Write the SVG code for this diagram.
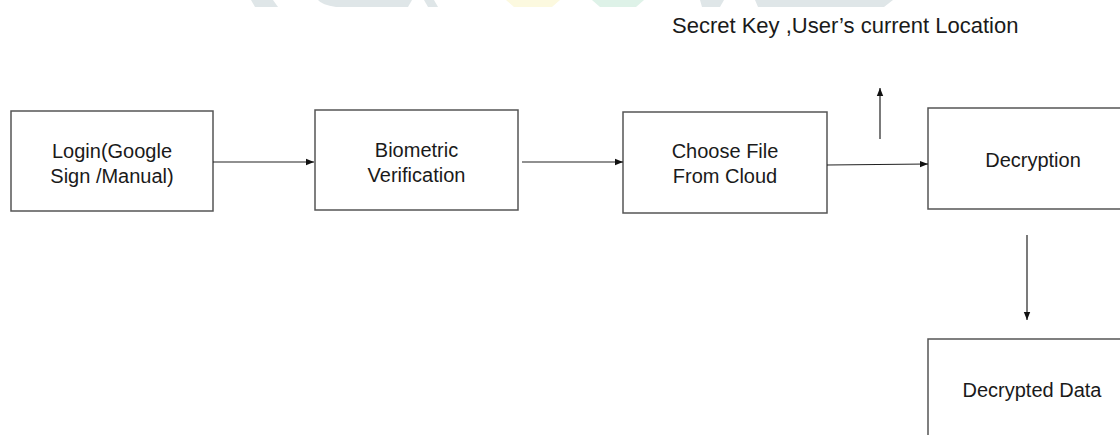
<svg xmlns="http://www.w3.org/2000/svg" width="1120" height="435" viewBox="0 0 1120 435">
  <defs>
    <marker id="arrow" viewBox="0 0 8 8" refX="8" refY="4" markerWidth="8" markerHeight="8" markerUnits="userSpaceOnUse" orient="auto">
      <path d="M0,0.8 L8,4 L0,7.2 Z" fill="#111"/>
    </marker>
    <style>
      .box { fill: #fff; stroke: #555; stroke-width: 1.5; }
      .label { font-family: "Liberation Sans", Arial, Helvetica, sans-serif; font-size: 20px; fill: #1a1a1a; text-anchor: middle; }
      .note { font-family: "Liberation Sans", Arial, Helvetica, sans-serif; font-size: 22px; fill: #1a1a1a; }
      .wire { fill: none; stroke: #222; stroke-width: 1.2; marker-end: url(#arrow); }
      .wm-gray { fill: #dfe6e8; }
      .wm-yellow { fill: #fcf9df; }
      .wm-green { fill: #def2e8; }
    </style>
  </defs>

  <rect width="1120" height="435" fill="#fff"/>

  <!-- faint background watermark along the top edge -->
  <g id="watermark">
    <polygon class="wm-gray" points="251,0 273,0 278,7 255,7"/>
    <path class="wm-gray" d="M318,0 L412,0 L408,7 L336,7 Q322,5 318,0 Z"/>
    <polygon class="wm-gray" points="424,0 434,0 438,7 428,7"/>
    <polygon class="wm-yellow" points="506,0 560,0 552,7 514,7"/>
    <polygon class="wm-green" points="592,0 644,0 636,7 600,7"/>
    <polygon class="wm-gray" points="700,0 724,0 720,7 702,7"/>
    <path class="wm-gray" d="M755,0 L893,0 L884,7 L758,7 Z"/>
  </g>

  <text class="note" x="672" y="33">Secret Key ,User’s current Location</text>

  <g id="login">
    <rect class="box" x="11" y="111" width="202" height="100"/>
    <text class="label" x="112" y="158">Login(Google</text>
    <text class="label" x="112" y="183">Sign /Manual)</text>
  </g>

  <g id="biometric">
    <rect class="box" x="315" y="110" width="203" height="100"/>
    <text class="label" x="416.5" y="157">Biometric</text>
    <text class="label" x="416.5" y="182">Verification</text>
  </g>

  <g id="choose-file">
    <rect class="box" x="623" y="112" width="204" height="101"/>
    <text class="label" x="725" y="158">Choose File</text>
    <text class="label" x="725" y="183">From Cloud</text>
  </g>

  <g id="decryption">
    <rect class="box" x="928" y="108" width="210" height="101"/>
    <text class="label" x="1033" y="167">Decryption</text>
  </g>

  <g id="decrypted-data">
    <rect class="box" x="928" y="339" width="210" height="110"/>
    <text class="label" x="1032" y="397">Decrypted Data</text>
  </g>

  <g id="connectors">
    <line class="wire" x1="213" y1="162" x2="314" y2="162"/>
    <line class="wire" x1="522" y1="162" x2="623" y2="162"/>
    <line class="wire" x1="827" y1="165" x2="928" y2="164"/>
    <line class="wire" x1="880" y1="139" x2="880" y2="88"/>
    <line class="wire" x1="1027" y1="235" x2="1027" y2="320"/>
  </g>
</svg>
